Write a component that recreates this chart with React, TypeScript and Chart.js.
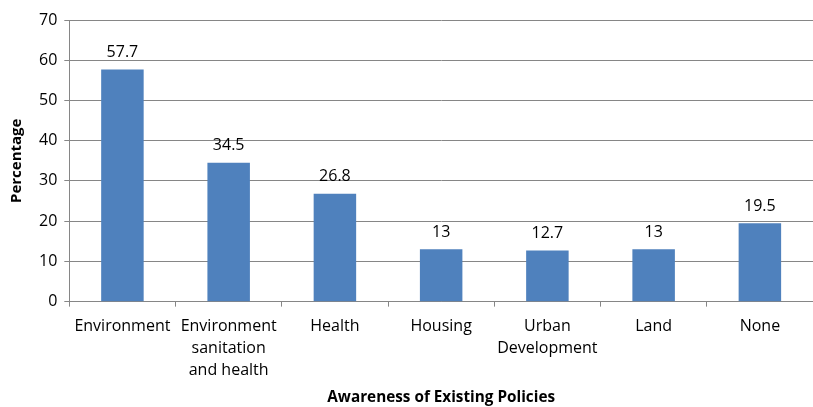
import React, { useEffect, useRef } from "react";
import { Chart, registerables } from "chart.js";

Chart.register(...registerables);

const categories: (string | string[])[] = [
  "Environment",
  ["Environment", "sanitation", "and health"],
  "Health",
  "Housing",
  ["Urban", "Development"],
  "Land",
  "None",
];
const values = [57.7, 34.5, 26.8, 13, 12.7, 13, 19.5];
const valueLabels = ["57.7", "34.5", "26.8", "13", "12.7", "13", "19.5"];
const yTicks = [0, 10, 20, 30, 40, 50, 60, 70];

const FONT = "'Open Sans', sans-serif";

const labelPlugin = {
  id: "valueLabels",
  afterDatasetsDraw(chart: any) {
    const ctx = chart.ctx;
    const meta = chart.getDatasetMeta(0);
    ctx.save();
    ctx.font = `16px ${FONT}`;
    ctx.fillStyle = "#000";
    ctx.textAlign = "center";
    ctx.textBaseline = "middle";
    meta.data.forEach((bar: any, i: number) => {
      ctx.fillText(valueLabels[i], bar.x, bar.y - 17);
    });
    ctx.restore();
  },
};

export default function App() {
  const ref = useRef<HTMLCanvasElement | null>(null);
  useEffect(() => {
    if (!ref.current) return;
    const chart = new Chart(ref.current, {
      type: "bar",
      data: {
        labels: categories,
        datasets: [
          {
            data: values,
            backgroundColor: "#4F81BD",
            borderWidth: 0,
            categoryPercentage: 1,
            barPercentage: 0.4,
          },
        ],
      },
      options: {
        animation: false,
        responsive: false,
        maintainAspectRatio: false,
        layout: { padding: { top: 20, right: 0, left: 8, bottom: 0 } },
        plugins: {
          legend: { display: false },
          tooltip: { enabled: false },
        },
        scales: {
          x: {
            grid: {
              offset: true,
              drawOnChartArea: false,
              drawTicks: true,
              tickLength: 5,
              color: "#868686",
            },
            border: { color: "#868686", width: 1 },
            ticks: {
              color: "#000",
              font: { family: FONT, size: 16, lineHeight: 1.375 },
              padding: 9,
              maxRotation: 0,
              autoSkip: false,
            },
            title: {
              display: true,
              text: "Awareness of Existing Policies",
              color: "#000",
              font: { family: FONT, size: 15.3, weight: "bold" },
              padding: { top: -2, bottom: 0 },
            },
          },
          y: {
            min: 0,
            max: 70,
            afterBuildTicks: (axis: any) => {
              axis.ticks = yTicks.map((v) => ({ value: v }));
            },
            grid: {
              color: "#868686",
              drawTicks: true,
              tickLength: 5,
            },
            border: { color: "#868686", width: 1 },
            ticks: {
              color: "#000",
              font: { family: FONT, size: 16 },
              padding: 7,
            },
            title: {
              display: true,
              text: "Percentage",
              color: "#000",
              font: { family: FONT, size: 15, weight: "bold" },
              padding: { top: 0, bottom: 6 },
            },
          },
        },
      },
      plugins: [labelPlugin],
    });
    return () => chart.destroy();
  }, []);
  return (
    <div style={{ position: "fixed", left: 0, top: 0, width: 813, height: 407, background: "#fff" }}>
      <canvas ref={ref} width={813} height={407} style={{ width: 813, height: 407 }} />
    </div>
  );
}
